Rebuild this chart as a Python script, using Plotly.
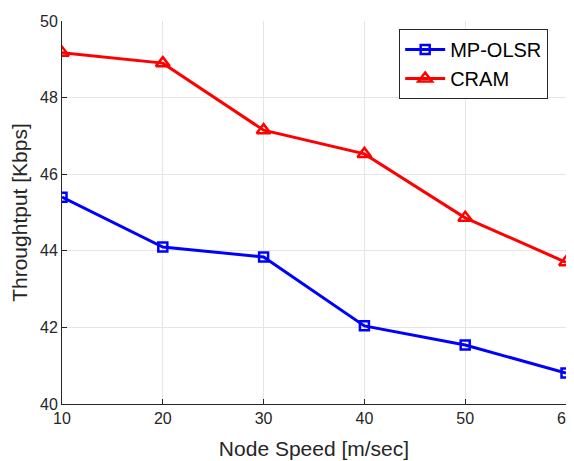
import plotly.graph_objects as go

speed = [10, 20, 30, 40, 50, 60]
mp_olsr = [45.40, 44.10, 43.84, 42.04, 41.54, 40.81]
cram = [49.17, 48.90, 47.15, 46.53, 44.86, 43.70]

FONT = "Liberation Sans, Arial"
fig = go.Figure()
fig.add_trace(go.Scatter(x=speed, y=mp_olsr, name="MP-OLSR", mode="lines+markers",
                         line=dict(color="#0000ff", width=3),
                         marker=dict(symbol="square-open", size=9, color="#0000ff", line=dict(width=2.5))))
fig.add_trace(go.Scatter(x=speed, y=cram, name="CRAM", mode="lines+markers",
                         line=dict(color="#ff0000", width=3),
                         marker=dict(symbol="triangle-up-open", size=12, color="#ff0000", line=dict(width=2.5))))

axis_common = dict(showgrid=True, gridcolor="#e5e5e5", gridwidth=1, zeroline=False,
                   showline=True, linecolor="#262626", linewidth=1, ticks="inside", ticklen=5,
                   tickcolor="#262626", tickfont=dict(family=FONT, size=16, color="#262626"),
                   mirror=False, automargin=False)
fig.update_xaxes(range=[10, 60], tickvals=[10, 20, 30, 40, 50, 60], ticklabeloverflow="allow",
                 title=dict(text="Node Speed [m/sec]", font=dict(family=FONT, size=21, color="#262626")),
                 **axis_common)
fig.update_yaxes(range=[40, 50], tickvals=[40, 42, 44, 46, 48, 50],
                 title=dict(text="Throughtput [Kbps]", font=dict(family=FONT, size=21, color="#262626")),
                 **axis_common)
fig.update_layout(width=566, height=453, plot_bgcolor="white", paper_bgcolor="white",
                  margin=dict(l=54, r=8, t=13, b=57),
                  legend=dict(x=0.669, y=0.979, xanchor="left", yanchor="top",
                              bgcolor="white", bordercolor="#262626", borderwidth=1,
                              font=dict(family=FONT, size=20, color="black"),
                              itemwidth=40, tracegroupgap=0))
fig.write_html("out.html")
